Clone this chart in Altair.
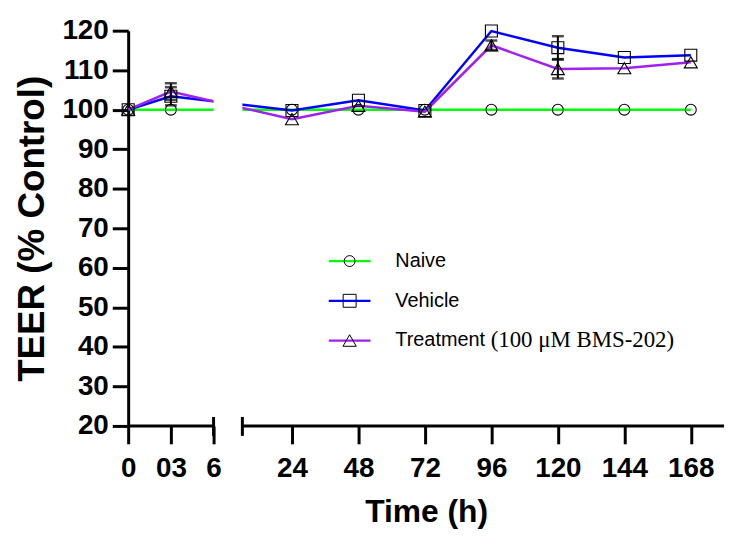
import altair as alt
import pandas as pd

# ---- data ----
times = [0, 3, 24, 48, 72, 96, 120, 144, 168]
series = ["Naive", "Vehicle", "Treatment (100 μM BMS-202)"]
naive = [100, 100, 100, 100, 100, 100, 100, 100, 100]
vehicle = [100, 103.4, 99.8, 102.4, 99.8, 119.9, 115.7, 113.2, 113.8]
treatment = [100, 104.6, 97.6, 101.0, 99.5, 116.3, 110.3, 110.5, 112.0]
naive_err = [0, 0, 0, 0, 0, 0, 0, 0, 0]
vehicle_err = [0, 2.3, 0, 0, 0, 0, 2.9, 0, 0]
treatment_err = [0, 2.1, 0, 0, 0, 1.2, 2.4, 0, 0]
colors = ["#00ff00", "#0000ff", "#a020f0"]
shapes = ["circle", "square", "triangle-up"]
sizes = [120, 170, 180]
x_ticks = [0, 3, 6, 24, 48, 72, 96, 120, 144, 168]
y_ticks = [20, 30, 40, 50, 60, 70, 80, 90, 100, 110, 120]

rows = []
for name, vals, errs in zip(series, [naive, vehicle, treatment],
                            [naive_err, vehicle_err, treatment_err]):
    for t, v, e in zip(times, vals, errs):
        rows.append({"time": t, "value": v, "err": e, "series": name,
                     "lo": v - e, "hi": v + e})
df = pd.DataFrame(rows)
err_df = df[df["err"] > 0]
one = pd.DataFrame({"k": [0]})  # single row for decoration layers

W, H = 600, 398
xscale = alt.Scale(domain=[0, 6, 6.1, 180], range=[0, 86, 115, W], nice=False, zero=False)
yscale = alt.Scale(domain=[20, 120], nice=False, zero=False)
xaxis = alt.Axis(values=x_ticks, title="Time (h)", domain=False, grid=False,
                 tickSize=18, tickWidth=3, tickColor="black", labelPadding=11,
                 labelExpr="datum.value == 3 ? '03' : datum.label",
                 labelFlush=False, labelOverlap=False, titlePadding=14)
yaxis = alt.Axis(values=y_ticks, title="TEER (% Control)", grid=False,
                 tickSize=16, tickWidth=3, tickColor="black", domainWidth=3,
                 domainColor="black", labelPadding=4, titlePadding=11,
                 titleFontSize=37)

X = alt.X("time:Q", scale=xscale, axis=xaxis)
Y = alt.Y("value:Q", scale=yscale, axis=yaxis)
color = alt.Color("series:N", scale=alt.Scale(domain=series, range=colors), legend=None)

lines = alt.Chart(df).mark_line(strokeWidth=2.5).encode(x=X, y=Y, color=color)

gap = alt.Chart(one).mark_rect(color="white").encode(
    x=alt.datum(6, scale=xscale, axis=xaxis), x2=alt.datum(6.1),
    y=alt.datum(20, scale=yscale, axis=yaxis), y2=alt.datum(120))

points = alt.Chart(df).mark_point(filled=False, color="black", strokeWidth=1.1, opacity=1).encode(
    x=X, y=Y,
    shape=alt.Shape("series:N", scale=alt.Scale(domain=series, range=shapes), legend=None),
    size=alt.Size("series:N", scale=alt.Scale(domain=series, range=sizes), legend=None))

ebar = alt.Chart(err_df).mark_rule(color="black", strokeWidth=2).encode(
    x=X, y=alt.Y("lo:Q", scale=yscale, axis=yaxis), y2="hi:Q")
cap_hi = alt.Chart(err_df).mark_tick(color="black", orient="horizontal", size=12, thickness=2.5).encode(
    x=X, y=alt.Y("hi:Q", scale=yscale, axis=yaxis))
cap_lo = alt.Chart(err_df).mark_tick(color="black", orient="horizontal", size=12, thickness=2.5).encode(
    x=X, y=alt.Y("lo:Q", scale=yscale, axis=yaxis))

axis1 = alt.Chart(one).mark_rule(color="black", strokeWidth=3).encode(
    x=alt.datum(0, scale=xscale, axis=xaxis), x2=alt.datum(6),
    y=alt.datum(20, scale=yscale, axis=yaxis))
axis2 = alt.Chart(one).mark_rule(color="black", strokeWidth=3).encode(
    x=alt.datum(6.1, scale=xscale, axis=xaxis), x2=alt.datum(180),
    y=alt.datum(20, scale=yscale, axis=yaxis))
capA = alt.Chart(one).mark_rule(color="black", strokeWidth=3).encode(
    x=alt.datum(6, scale=xscale, axis=xaxis), y=alt.value(H - 9), y2=alt.value(H + 10))
capB = alt.Chart(one).mark_rule(color="black", strokeWidth=3).encode(
    x=alt.datum(6.1, scale=xscale, axis=xaxis), y=alt.value(H - 9), y2=alt.value(H + 10))

# ---- manual legend ----
legend_layers = []
leg_y = [232, 272, 312]
for name, col, shp, sz, ly in zip(series, colors, shapes, sizes, leg_y):
    legend_layers.append(alt.Chart(one).mark_rule(color=col, strokeWidth=2.3).encode(
        x=alt.value(202), x2=alt.value(244), y=alt.value(ly)))
    legend_layers.append(alt.Chart(one).mark_point(
        shape=shp, filled=False, color="black", strokeWidth=1, size=sz, opacity=1).encode(
        x=alt.value(223), y=alt.value(ly)))
    main, _, rest = name.partition(" (")
    legend_layers.append(alt.Chart(one).mark_text(
        align="left", baseline="middle", font="Liberation Sans", fontSize=20,
        fontWeight="normal", color="black").encode(
        x=alt.value(269), y=alt.value(ly), text=alt.value(main)))
    if rest:
        legend_layers.append(alt.Chart(one).mark_text(
            align="left", baseline="middle", font="Liberation Serif", fontSize=23,
            fontWeight="normal", color="black").encode(
            x=alt.value(365), y=alt.value(ly), text=alt.value("(" + rest)))

chart = alt.layer(lines, gap, points, ebar, cap_hi, cap_lo, axis1, axis2, capA, capB,
                  *legend_layers).properties(
    width=W, height=H,
    padding={"left": 5, "top": 7, "right": 5, "bottom": 5}).configure_view(
    stroke=None).configure_axis(
    labelFont="Liberation Sans", labelFontWeight="bold", labelFontSize=28, labelColor="black",
    titleFont="Liberation Sans", titleFontWeight="bold", titleFontSize=32, titleColor="black")

chart.save("out.html", embed_options={"renderer": "svg", "actions": False})
